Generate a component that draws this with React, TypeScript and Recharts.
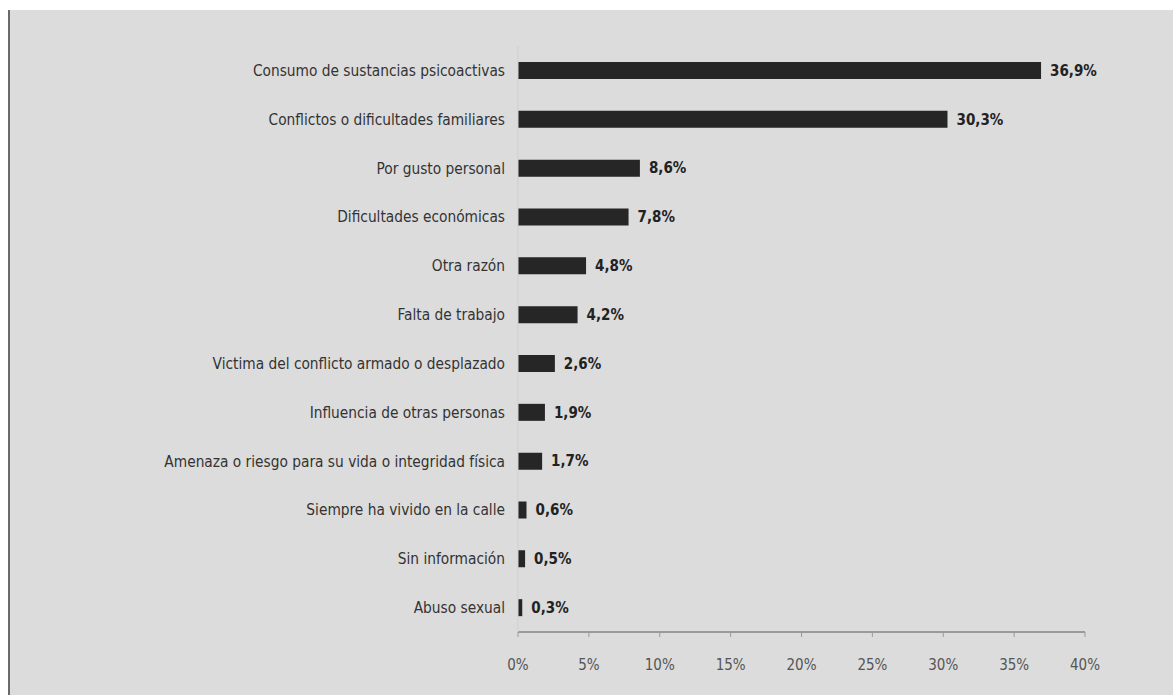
import React from "react";
import { Bar, BarChart, LabelList, XAxis, YAxis } from "recharts";

const categories = [
    "Consumo de sustancias psicoactivas",
    "Conflictos o dificultades familiares",
    "Por gusto personal",
    "Dificultades económicas",
    "Otra razón",
    "Falta de trabajo",
    "Victima del conflicto armado o desplazado",
    "Influencia de otras personas",
    "Amenaza o riesgo para su vida o integridad física",
    "Siempre ha vivido en la calle",
    "Sin información",
    "Abuso sexual",
];

const percentages = [36.9, 30.3, 8.6, 7.8, 4.8, 4.2, 2.6, 1.9, 1.7, 0.6, 0.5, 0.3];

const xTicks = [0, 5, 10, 15, 20, 25, 30, 35, 40];

const data = categories.map((name, i) => ({ name, value: percentages[i] }));

const font = '"Liberation Sans Narrow", "DejaVu Sans Condensed", sans-serif';

function App() {
    return (
        <div
            style={{
                position: "absolute",
                left: 0,
                top: 0,
                width: 1173,
                height: 695,
                background: "#ffffff",
            }}>
            <div
                style={{
                    position: "absolute",
                    left: 8,
                    top: 10,
                    width: 2,
                    height: 685,
                    background: "#6a6a6a",
                }}
            />
            <div
                style={{
                    position: "absolute",
                    left: 10,
                    top: 10,
                    width: 1163,
                    height: 685,
                    background: "#dcdcdc",
                }}>
                <BarChart
                    layout="vertical"
                    width={1163}
                    height={685}
                    data={data}
                    margin={{ top: 36, right: 88, bottom: 33, left: 0 }}
                    barSize={17}>
                    <XAxis
                        type="number"
                        domain={[0, 40]}
                        ticks={xTicks}
                        tickFormatter={(v) => `${v}%`}
                        axisLine={{ stroke: "#9a9a9a", strokeWidth: 2 }}
                        tickLine={{ stroke: "#9a9a9a" }}
                        tickSize={5}
                        tickMargin={22}
                        height={30}
                        tick={{ fill: "#555", fontSize: 15, fontFamily: font }}
                    />
                    <YAxis
                        type="category"
                        dataKey="name"
                        width={508}
                        axisLine={{ stroke: "#cfcfcf", strokeWidth: 1 }}
                        tickLine={false}
                        tickSize={0}
                        tickMargin={13}
                        interval={0}
                        tick={{ fill: "#333", fontSize: 15.3, fontFamily: font }}
                    />
                    <Bar dataKey="value" fill="#262626" isAnimationActive={false}>
                        <LabelList
                            dataKey="value"
                            position="right"
                            offset={9}
                            formatter={(v: number) => `${v.toFixed(1).replace(".", ",")}%`}
                            style={{ fill: "#222", fontSize: 15, fontWeight: "bold", fontFamily: font }}
                        />
                    </Bar>
                </BarChart>
            </div>
        </div>
    );
}

export default App;
